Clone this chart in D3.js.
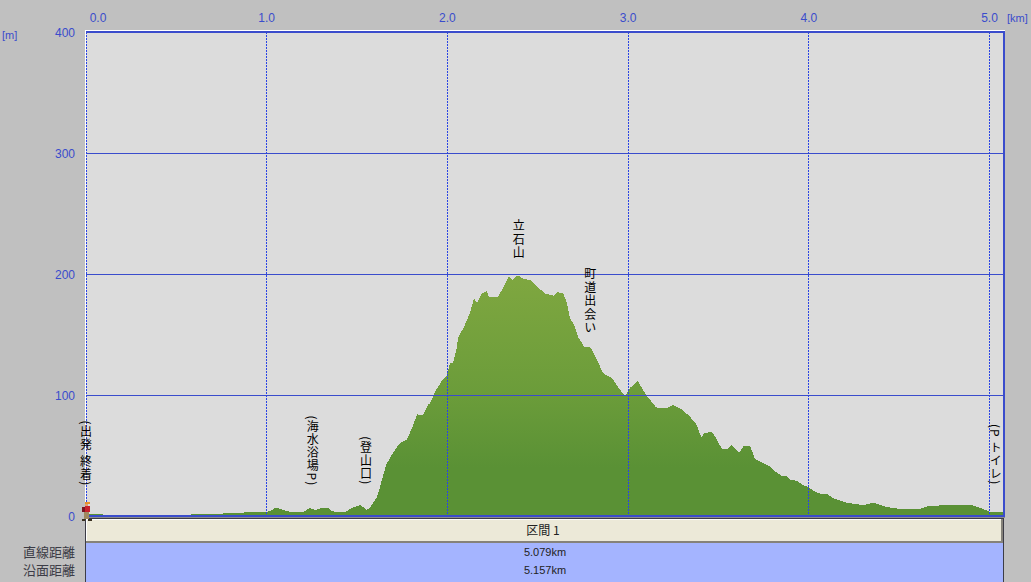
<!DOCTYPE html>
<html>
<head>
<meta charset="utf-8">
<script src="https://cdnjs.cloudflare.com/ajax/libs/d3/7.8.5/d3.min.js"></script>
<style>
  html, body { margin: 0; padding: 0; background: #c0c0c0; overflow: hidden; }
  svg { display: block; }
  text { font-family: "Liberation Sans", sans-serif; }
  .jp { font-family: "Noto Sans CJK JP", sans-serif; }
</style>
</head>
<body>
<div id="chart"></div>
<script>
'use strict';

var distKm = [0, 0.06, 0.105, 0.11, 0.49, 0.5, 0.68, 0.82, 0.89, 1.0, 1.02, 1.05, 1.08, 1.105,
  1.129, 1.201, 1.240, 1.267, 1.306, 1.339, 1.361, 1.389, 1.433, 1.472, 1.516, 1.533, 1.550, 1.566,
  1.588, 1.610, 1.627, 1.660, 1.682, 1.721, 1.743, 1.776, 1.793, 1.810, 1.832, 1.865, 1.893, 1.904,
  1.931, 1.970, 1.998, 2.014, 2.031, 2.053, 2.059, 2.097, 2.125, 2.136, 2.147, 2.164, 2.191, 2.219,
  2.230, 2.280, 2.308, 2.341, 2.358, 2.391, 2.418, 2.457, 2.496, 2.540, 2.579, 2.590, 2.607, 2.640,
  2.662, 2.678, 2.701, 2.723, 2.756, 2.789, 2.828, 2.861, 2.911, 2.944, 2.983, 3.011, 3.055, 3.082,
  3.110, 3.154, 3.171, 3.215, 3.248, 3.298, 3.343, 3.381, 3.398, 3.409, 3.420, 3.464, 3.492, 3.520,
  3.547, 3.575, 3.614, 3.641, 3.675, 3.702, 3.741, 3.774, 3.813, 3.852, 3.874, 3.896, 3.935, 3.962,
  3.996, 4.034, 4.073, 4.101, 4.145, 4.211, 4.300, 4.355, 4.433, 4.505, 4.615, 4.660, 4.770, 4.903,
  4.964, 5.003, 5.080];

var elevM = [2, 2, 1, 0, 0, 1, 1.5, 2.5, 3, 3.5, 4, 7, 5.5, 4.5,
  3.3, 3.3, 6.6, 5, 6.6, 6.6, 4.1, 3.3, 3.3, 6.6, 9, 7.4, 5, 5.8,
  10.7, 15.7, 24, 42, 48, 57, 61, 63, 69, 75, 84, 83.5, 92, 93,
  102.5, 112, 116.5, 126.5, 126.5, 140, 147, 158, 168, 174, 180, 176, 184, 186,
  181, 181, 188.5, 198, 195, 199, 196, 195, 190, 183.5, 182.6, 182, 185, 184,
  176, 163.6, 158, 148, 140, 140, 129, 118, 114, 106.6, 99, 106, 111.6, 104,
  98, 90, 89, 89, 92, 88, 82, 75, 67, 65, 68.6, 69.4, 63, 55,
  55, 58.7, 52, 58, 58, 47, 44, 42, 37, 33, 33, 30, 29, 26,
  24, 20, 18, 18, 14, 11, 9, 11, 7.4, 5.8, 5.8, 8.3, 9, 9,
  5.8, 3.3, 3.3];

var kmTicks = [0, 1, 2, 3, 4, 5];
var mTicks = [0, 100, 200, 300, 400];

var placeNames = ['(出発 終着)', '(海水浴場P)', '(登山口)', '立石山', '町道出会い', '(P トイレ)'];
var placeKm = [0, 1.255, 1.55, 2.395, 2.79, 5.035];
var placeM = [79, 83, 66, 245, 205, 76];

var rowNames = ['直線距離', '沿面距離'];
var rowValues = ['5.079km', '5.157km'];
var sectionName = '区間 1';

var blue = '#3a4ccc';
var dotBlue = '#2a44e4';

var svg = d3.select('#chart').append('svg').attr('width', 1031).attr('height', 582);

var x = d3.scaleLinear().domain([0, 5.08]).range([86, 1004]);
var y = d3.scaleLinear().domain([0, 400]).range([516, 32]);

var grad = svg.append('defs').append('linearGradient')
  .attr('id', 'hill').attr('gradientUnits', 'userSpaceOnUse')
  .attr('x1', 0).attr('x2', 0).attr('y1', y(200)).attr('y2', y(0));
grad.append('stop').attr('offset', 0).attr('stop-color', '#7fa740');
grad.append('stop').attr('offset', 0.5).attr('stop-color', '#6b9c3a');
grad.append('stop').attr('offset', 0.8).attr('stop-color', '#5a9135');
grad.append('stop').attr('offset', 1).attr('stop-color', '#5a9135');

// plot background, white edge on the top and left
svg.append('rect').attr('x', 85).attr('y', 30).attr('width', 920).attr('height', 488).attr('fill', '#ffffff');
svg.append('rect').attr('x', 86).attr('y', 31).attr('width', 919).attr('height', 486).attr('fill', '#dcdcdc');

var area = d3.area()
  .x(function (d) { return x(d); })
  .y0(y(0))
  .y1(function (d, i) { return y(elevM[i]); });

svg.append('path').datum(distKm)
  .attr('d', area)
  .attr('fill', 'url(#hill)')
  .attr('shape-rendering', 'crispEdges');

// horizontal grid
svg.append('g').selectAll('line').data(mTicks.slice(1, 4)).enter().append('line')
  .attr('x1', 86).attr('x2', 1004)
  .attr('y1', function (d) { return Math.round(y(d)) + 0.5; })
  .attr('y2', function (d) { return Math.round(y(d)) + 0.5; })
  .attr('stroke', blue).attr('stroke-width', 1);

// vertical grid, dotted
svg.append('g').selectAll('line').data(kmTicks).enter().append('line')
  .attr('x1', function (d) { return Math.floor(x(d)) + 0.5; })
  .attr('x2', function (d) { return Math.floor(x(d)) + 0.5; })
  .attr('y1', 32).attr('y2', 514)
  .attr('stroke', dotBlue).attr('stroke-width', 1)
  .attr('stroke-dasharray', '2,1')
  .attr('shape-rendering', 'crispEdges');

// frame
svg.append('rect').attr('x', 86).attr('y', 31).attr('width', 919).attr('height', 2).attr('fill', blue);
svg.append('rect').attr('x', 1003).attr('y', 31).attr('width', 2).attr('height', 486).attr('fill', blue);
svg.append('rect').attr('x', 86).attr('y', 515).attr('width', 919).attr('height', 2).attr('fill', blue);
svg.append('rect').attr('x', 86).attr('y', 517).attr('width', 919).attr('height', 1).attr('fill', '#8c8c8c');

// axis labels
svg.append('g').selectAll('text').data(kmTicks).enter().append('text')
  .attr('x', function (d) { return d === 0 ? x(d) + 12 : x(d); })
  .attr('y', 22)
  .attr('text-anchor', 'middle')
  .attr('font-size', 12)
  .attr('fill', blue)
  .text(function (d) { return d3.format('.1f')(d); });

svg.append('g').selectAll('text').data(mTicks).enter().append('text')
  .attr('x', 75)
  .attr('y', function (d) { return y(d) + 5; })
  .attr('text-anchor', 'end')
  .attr('font-size', 12)
  .attr('fill', blue)
  .text(function (d) { return d; });

svg.append('text').attr('x', 2).attr('y', 39).attr('font-size', 11).attr('fill', blue).text('[m]');
svg.append('text').attr('x', 1007).attr('y', 22).attr('font-size', 11).attr('fill', blue).text('[km]');

// table under the plot
svg.append('rect').attr('x', 85).attr('y', 518).attr('width', 919).attr('height', 64).attr('fill', '#3c3c46');
svg.append('rect').attr('x', 86).attr('y', 519).attr('width', 917).attr('height', 23).attr('fill', '#ece9d8');
svg.append('rect').attr('x', 86).attr('y', 519).attr('width', 917).attr('height', 1).attr('fill', '#ffffff');
svg.append('rect').attr('x', 86).attr('y', 519).attr('width', 1).attr('height', 23).attr('fill', '#ffffff');
svg.append('rect').attr('x', 86).attr('y', 541).attr('width', 917).attr('height', 2).attr('fill', '#85827a');
svg.append('rect').attr('x', 1001).attr('y', 519).attr('width', 2).attr('height', 24).attr('fill', '#85827a');
svg.append('rect').attr('x', 86).attr('y', 543).attr('width', 917).attr('height', 39).attr('fill', '#a4b4ff');

svg.append('text').attr('class', 'jp').attr('x', 543).attr('y', 535)
  .attr('text-anchor', 'middle').attr('font-size', 12).attr('fill', '#222')
  .text(sectionName);

svg.append('g').selectAll('text').data(rowNames).enter().append('text')
  .attr('class', 'jp')
  .attr('x', 75)
  .attr('y', function (d, i) { return 557 + i * 18; })
  .attr('text-anchor', 'end')
  .attr('font-size', 13)
  .attr('fill', '#3c3c46')
  .text(function (d) { return d; });

svg.append('g').selectAll('text').data(rowValues).enter().append('text')
  .attr('x', 545)
  .attr('y', function (d, i) { return 556 + i * 18; })
  .attr('text-anchor', 'middle')
  .attr('font-size', 11)
  .attr('fill', '#222')
  .text(function (d) { return d; });

// place names, written top to bottom
svg.append('g').selectAll('text').data(placeNames).enter().append('text')
  .attr('class', 'jp')
  .attr('x', function (d, i) { return x(placeKm[i]); })
  .attr('y', function (d, i) { return y(placeM[i]); })
  .attr('font-size', 12)
  .attr('fill', '#000')
  .style('letter-spacing', function (d) { return d[0] === '(' ? '1px' : '1.5px'; })
  .style('writing-mode', 'vertical-rl')
  .text(function (d) { return d; });

// little hiker at the start point, it sits over the table edge
var hiker = svg.append('g').attr('transform', 'translate(' + x(0) + ',' + y(0) + ')');
hiker.append('rect').attr('x', -1).attr('y', -14).attr('width', 5).attr('height', 2).attr('fill', '#e8902a');
hiker.append('rect').attr('x', -1).attr('y', -12).attr('width', 3).attr('height', 2).attr('fill', '#e0a070');
hiker.append('rect').attr('x', -1).attr('y', -10).attr('width', 5).attr('height', 6).attr('fill', '#c8202c');
hiker.append('rect').attr('x', -4).attr('y', -9).attr('width', 3).attr('height', 5).attr('fill', '#7a1420');
hiker.append('rect').attr('x', -2).attr('y', -4).attr('width', 5).attr('height', 7).attr('fill', '#a08a60');
hiker.append('rect').attr('x', -4).attr('y', 3).attr('width', 3).attr('height', 2).attr('fill', '#3a3020');
hiker.append('rect').attr('x', 2).attr('y', 3).attr('width', 4).attr('height', 2).attr('fill', '#3a3020');
</script>
</body>
</html>
